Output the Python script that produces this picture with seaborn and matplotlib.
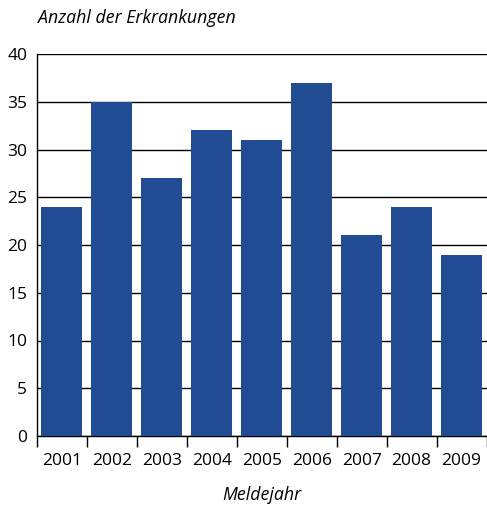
import matplotlib
matplotlib.use("Agg")
import matplotlib.pyplot as plt
import seaborn as sns
import pandas as pd
import numpy as np

years = ["2001", "2002", "2003", "2004", "2005", "2006", "2007", "2008", "2009"]
cases = [24, 35, 27, 32, 31, 37, 21, 24, 19]
y_ticks = [0, 5, 10, 15, 20, 25, 30, 35, 40]

sns.set_theme(style="white")
plt.rcParams['font.family'] = ['Open Sans', 'DejaVu Sans']
plt.rcParams['text.color'] = 'black'
plt.rcParams['xtick.color'] = 'black'
plt.rcParams['ytick.color'] = 'black'
plt.rcParams['xtick.labelcolor'] = 'black'
plt.rcParams['ytick.labelcolor'] = 'black'

df = pd.DataFrame({"Meldejahr": years, "Anzahl": cases})

fig = plt.figure(figsize=(4.87, 5.08), dpi=100)
ax = fig.add_axes([37/487, 1-436/508, 1-37/487 - 0.001, (436-54)/508])

sns.barplot(data=df, x="Meldejahr", y="Anzahl", color="#214b93", saturation=1,
            width=0.82, ax=ax, zorder=3, linewidth=0, edgecolor="none")

ax.set_xlim(-0.5, len(years) - 0.5)
ax.set_ylim(0, 40)
ax.set_yticks(y_ticks)
ax.set_yticklabels([str(v) for v in y_ticks], fontsize=12.5, color="black")
ax.yaxis.grid(True, color="black", linewidth=1, zorder=0)
ax.set_axisbelow(True)

ax.set_xticks(range(len(years)))
ax.set_xticklabels(years, fontsize=12.5, color="black")
ax.set_xticks(np.arange(-0.5, len(years), 1.0), minor=True)
ax.tick_params(axis="x", which="major", length=0, pad=12)
ax.tick_params(axis="x", which="minor", length=8, width=1, color="black", direction="out", bottom=True)
ax.tick_params(axis="y", length=0, pad=7)

for s in ["top", "right"]:
    ax.spines[s].set_visible(False)
for s in ["left", "bottom"]:
    ax.spines[s].set_color("black")
    ax.spines[s].set_linewidth(1)

ax.set_xlabel("")
ax.set_ylabel("")
fig.text(38/487, 1-18/508, "Anzahl der Erkrankungen", fontsize=12.8, style="italic",
         ha="left", va="center", color="black")
fig.text(262/487, 1-495/508, "Meldejahr", fontsize=12.8, style="italic",
         ha="center", va="center", color="black")

fig.savefig("out.png", dpi=100)
